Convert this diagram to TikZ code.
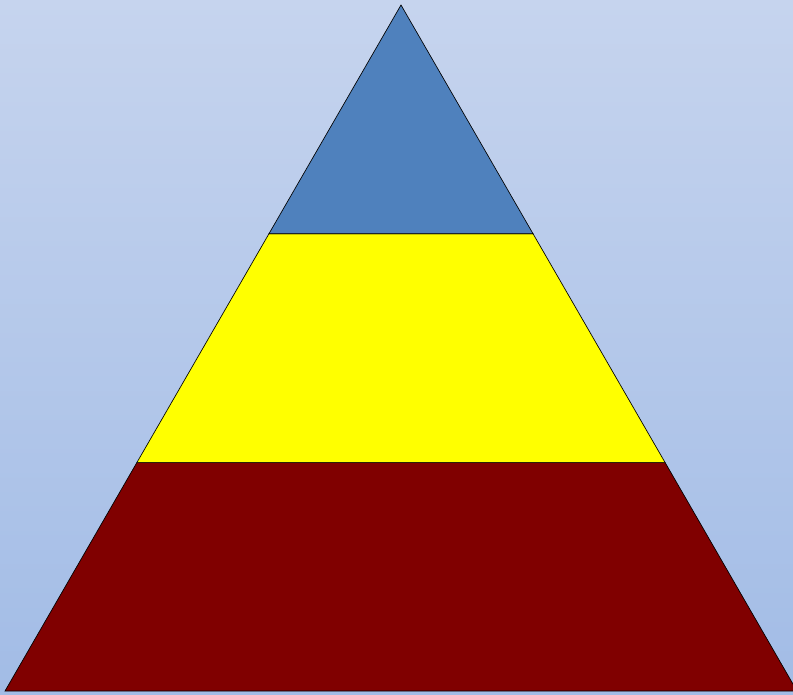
\documentclass[tikz,border=0pt]{standalone}
\usepackage{xcolor}
\usepackage{tikz}
\usetikzlibrary{calc}
\definecolor{skytop}{HTML}{C6D4EE}
\definecolor{skybot}{HTML}{A2BCE6}
\definecolor{tierblue}{HTML}{4F81BD}
\definecolor{tieryellow}{HTML}{FFFF00}
\definecolor{tiermaroon}{HTML}{800000}
\tikzset{
  bg/.style   = {top color=skytop, bottom color=skybot, draw=none},
  tier/.style = {draw=black, line width=0.5pt, line join=miter},
}

\begin{document}
\begin{tikzpicture}[x=0.75pt,y=-0.75pt]
  \useasboundingbox (0,0) rectangle (793,694);
  \clip (0,0) rectangle (793,694);
  \fill[bg] (0,0) rectangle (793,694);

  % outline points
  \coordinate (apex) at (401,5);
  \coordinate (bl) at (5,691);
  \coordinate (br) at (797,691);
  \coordinate (ul) at ($(apex)!1/3!(bl)$);
  \coordinate (ur) at ($(apex)!1/3!(br)$);
  \coordinate (ml) at ($(apex)!2/3!(bl)$);
  \coordinate (mr) at ($(apex)!2/3!(br)$);

  % tiers
  \draw[tier, fill=tiermaroon] (ml) -- (mr) -- (br) -- (bl) -- cycle;
  \draw[tier, fill=tieryellow] (ul) -- (ur) -- (mr) -- (ml) -- cycle;
  \draw[tier, fill=tierblue] (apex) -- (ur) -- (ul) -- cycle;
\end{tikzpicture}
\end{document}
